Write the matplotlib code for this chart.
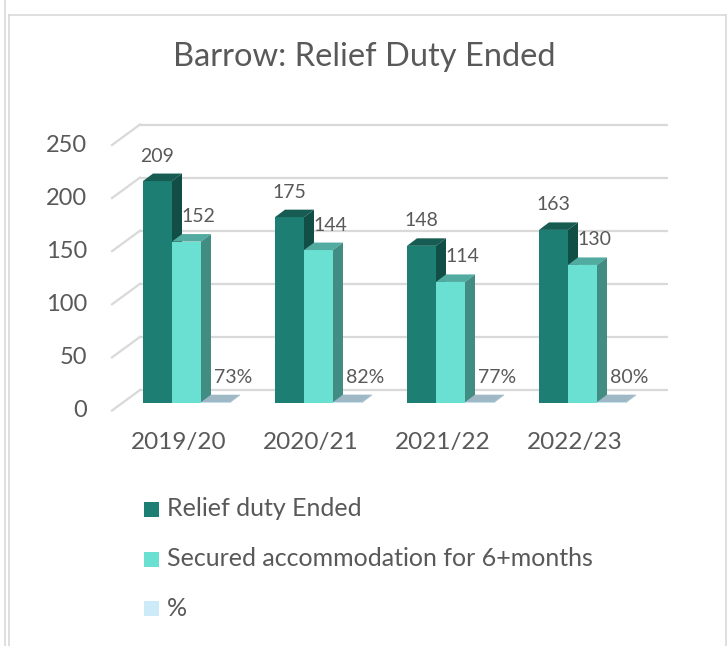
import matplotlib.pyplot as plt
from matplotlib.patches import Polygon, Rectangle
from matplotlib.lines import Line2D

plt.rcParams['font.family'] = ['Lato', 'DejaVu Sans']

# data
years = ['2019/20', '2020/21', '2021/22', '2022/23']
relief_ended = [209, 175, 148, 163]
secured = [152, 144, 114, 130]
pct = [0.73, 0.82, 0.77, 0.80]
series_names = ['Relief duty Ended', 'Secured accommodation for 6+months', '%']
yticks = [0, 50, 100, 150, 200, 250]

text_col = '#595959'
grid_col = '#d9d9d9'
# (front, top, side) for each series
shades = [('#1d7e74', '#175c52', '#114f46'),
          ('#6ae0d3', '#52aba0', '#418d84'),
          ('#cdeaf8', '#9fb8c6', '#9fb8c6')]
legend_cols = ['#1d7e74', '#6ae0d3', '#cdeaf8']

W, H = 728, 646
fig = plt.figure(figsize=(W / 100, H / 100), dpi=100)
fig.patch.set_facecolor('white')

# axes placed so that one group = 132 px, one unit = 1.062 px
px_x, px_y = 132.0, 1.062
x0_px, base_px = 186.5, 403.0
ax_l, ax_r, ax_t, ax_b = 100, 700, 100, 420
ax = fig.add_axes([ax_l / W, 1 - ax_b / H, (ax_r - ax_l) / W, (ax_b - ax_t) / H])
ax.set_xlim((ax_l - x0_px) / px_x, (ax_r - x0_px) / px_x)
ax.set_ylim((base_px - ax_b) / px_y, (base_px - ax_t) / px_y)
ax.axis('off')

def dx(p):
    return p / px_x

def dy(p):
    return p / px_y

# back wall gridlines + left floor diagonals
back_off, front_off = dy(13), dy(-7.5)
for v in yticks:
    ax.plot([dx(139 - x0_px), dx(668 - x0_px)], [v + back_off] * 2,
            color=grid_col, lw=1.6, zorder=1, solid_capstyle='butt')
    ax.plot([dx(112 - x0_px), dx(140 - x0_px)], [v + front_off, v + back_off],
            color=grid_col, lw=1.6, zorder=1)
    ax.text(dx(87 - x0_px), v + front_off, str(v), ha='right', va='center',
            fontsize=17, color=text_col)

bw = dx(29)
ddx, ddy = dx(10), dy(7.5)
label_dx = [0, dx(12), dx(18)]
xs = list(range(len(years)))
z = 2
for i in xs:
    for j, vals in enumerate([relief_ended, secured, pct]):
        front, top, side = shades[j]
        left = i - 1.5 * bw + j * bw
        h = vals[i]
        ax.bar(left, h, width=bw, align='edge', color=front, zorder=z, lw=0)
        ax.add_patch(Polygon([(left, h), (left + bw, h), (left + bw + ddx, h + ddy),
                              (left + ddx, h + ddy)], closed=True, color=top, lw=0, zorder=z))
        ax.add_patch(Polygon([(left + bw, 0), (left + bw, h), (left + bw + ddx, h + ddy),
                              (left + bw + ddx, ddy)], closed=True, color=side, lw=0, zorder=z))
        z += 1
        lab = f'{round(h * 100)}%' if j == 2 else str(h)
        ax.text(left + bw / 2 + label_dx[j], h + dy(25), lab, ha='center', va='center',
                fontsize=14, color=text_col, zorder=50)
    ax.text(i + dx(-8), dy(base_px - 443), years[i], ha='center', va='center',
            fontsize=17.5, color=text_col)

# title
fig.text(364 / W, 1 - 57 / H, 'Barrow: Relief Duty Ended', ha='center', va='center',
         fontsize=23.5, color=text_col)

# legend
rows = [509, 559, 608]
for name, col, yy in zip(series_names, legend_cols, rows):
    fig.add_artist(Rectangle((144 / W, 1 - (yy + 7.5) / H), 15 / W, 15 / H,
                             transform=fig.transFigure, color=col, lw=0))
    fig.text(167 / W, 1 - yy / H, name, ha='left', va='center', fontsize=18,
             color=text_col)

# chart frame
def fline(xa, ya, xb, yb):
    fig.add_artist(Line2D([xa / W, xb / W], [1 - ya / H, 1 - yb / H],
                          transform=fig.transFigure, color=grid_col, lw=1.2))

fline(5, 0, 5, H)
fline(9, 15, 9, H)
fline(9, 15, 726, 15)
fline(726, 15, 726, H)

fig.savefig('out.png', dpi=100, facecolor='white')
